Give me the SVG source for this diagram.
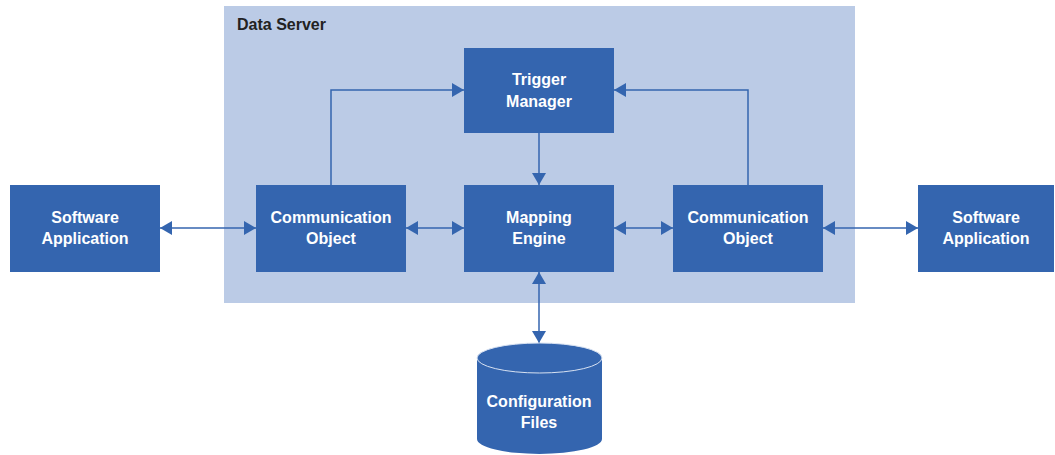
<svg xmlns="http://www.w3.org/2000/svg" width="1055" height="455" viewBox="0 0 1055 455">
<style>
.box{fill:#3465AF}
.lbl{font-family:"Liberation Sans",Arial,sans-serif;font-size:16px;font-weight:bold;fill:#fff;text-anchor:middle}
.con{stroke:#3465AF;stroke-width:1.5;fill:none}
</style>
<defs>
<marker id="ah" markerUnits="userSpaceOnUse" markerWidth="13" markerHeight="15" refX="12" refY="7" orient="auto-start-reverse">
<path d="M0,0 L12,7 L0,14 Z" fill="#3465AF"/>
</marker>
</defs>
<rect x="224" y="6" width="631" height="297" fill="#BBCBE6"/>
<text x="237" y="30" font-family="Liberation Sans,Arial,sans-serif" font-size="16" font-weight="bold" fill="#222">Data Server</text>
<g id="connectors">
<line class="con" x1="160" y1="228" x2="256" y2="228" marker-start="url(#ah)" marker-end="url(#ah)"/>
<line class="con" x1="406" y1="228" x2="464" y2="228" marker-start="url(#ah)" marker-end="url(#ah)"/>
<line class="con" x1="614" y1="228" x2="673" y2="228" marker-start="url(#ah)" marker-end="url(#ah)"/>
<line class="con" x1="823" y1="228" x2="918" y2="228" marker-start="url(#ah)" marker-end="url(#ah)"/>
<polyline class="con" points="331,185 331,90 464,90" marker-end="url(#ah)"/>
<polyline class="con" points="748,185 748,90 614,90" marker-end="url(#ah)"/>
<line class="con" x1="539" y1="133" x2="539" y2="185" marker-end="url(#ah)"/>
<line class="con" x1="539" y1="272" x2="539" y2="343" marker-start="url(#ah)" marker-end="url(#ah)"/>
</g>
<g id="sw-left"><rect class="box" x="10" y="185" width="150" height="87"/><text class="lbl" x="85" y="223">Software</text><text class="lbl" x="85" y="244">Application</text></g>
<g id="comm-left"><rect class="box" x="256" y="185" width="150" height="87"/><text class="lbl" x="331" y="223">Communication</text><text class="lbl" x="331" y="244">Object</text></g>
<g id="mapping"><rect class="box" x="464" y="185" width="150" height="87"/><text class="lbl" x="539" y="223">Mapping</text><text class="lbl" x="539" y="244">Engine</text></g>
<g id="trigger"><rect class="box" x="464" y="48" width="150" height="85"/><text class="lbl" x="539" y="85">Trigger</text><text class="lbl" x="539" y="107">Manager</text></g>
<g id="comm-right"><rect class="box" x="673" y="185" width="150" height="87"/><text class="lbl" x="748" y="223">Communication</text><text class="lbl" x="748" y="244">Object</text></g>
<g id="sw-right"><rect class="box" x="918" y="185" width="136" height="87"/><text class="lbl" x="986" y="223">Software</text><text class="lbl" x="986" y="244">Application</text></g>
<g id="config">
<path class="box" d="M477,358 L477,439 A62.5,15 0 0 0 602,439 L602,358 Z"/>
<ellipse cx="539.5" cy="358" rx="62.5" ry="15" fill="#3465AF" stroke="#D8E2F2" stroke-width="1"/>
<text class="lbl" x="539" y="407">Configuration</text><text class="lbl" x="539" y="428">Files</text>
</g>
</svg>
